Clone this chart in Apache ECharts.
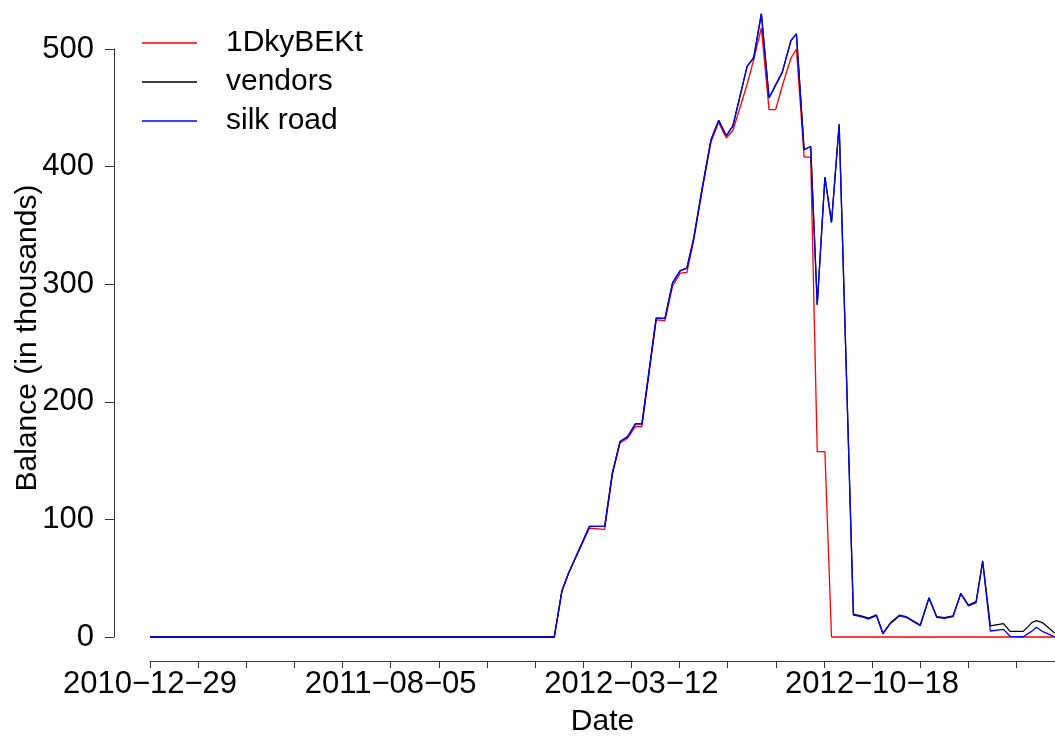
<!DOCTYPE html>
<html>
<head>
<meta charset="utf-8">
<script src="https://cdn.jsdelivr.net/npm/echarts@6/dist/echarts.min.js"></script>
<style>
  html, body { margin: 0; padding: 0; background: #fff; }
  #chart { width: 1055px; height: 736px; }
</style>
</head>
<body>
<div id="chart"></div>
<script>
// days since 2010-12-29 for every sample
const dayOffsets = [0, 369, 376, 382, 401, 415, 422, 429, 436, 443, 449, 462, 470, 477, 484, 490,
  496, 504, 512, 519, 526, 532, 545, 551, 558, 565, 571, 577, 585, 590, 597, 603, 609, 616, 622,
  629, 642, 649, 656, 663, 669, 676, 684, 690, 703, 711, 718, 725, 733, 740, 747, 754, 760, 767,
  779, 785, 797, 805, 809, 815, 826]

// balances in thousands
const dkyValues = [0, 0, 39.4, 54.2, 92.5, 91.6, 138, 165, 169, 179, 179, 269.7, 269, 298.5, 309.4,
  310, 336, 380, 421, 437.6, 424.3, 430.7, 470, 490.9, 517.9, 448.4, 448.4, 468.3, 492.3, 500,
  408.1, 408.1, 157.6, 157.6, 0, 0, 0, 0, 0, 0, 0, 0, 0, 0, 0, 0, 0, 0, 0, 0, 0, 0, 0, 0, 0, 0, 0,
  0, 0, 0, 0]

const vendorValues = [0, 0, 39.4, 54.2, 94, 94, 139.3, 166.2, 170.4, 181.2, 181.2, 271.1, 271,
  301.4, 311.6, 313.6, 337.8, 381.7, 422.8, 439.3, 426.2, 434.7, 485.2, 492.8, 530, 458.3, 469.3,
  480.1, 507.1, 512.8, 414.3, 417.1, 282.5, 391, 352.5, 436, 19.5, 18, 16, 18.8, 3.2, 12.3, 18.5,
  17.4, 10.2, 33.5, 17.4, 16.5, 18, 37.2, 27.2, 30, 64.7, 9.4, 11.4, 4.8, 4.8, 12.2, 14, 12, 3.1]

const silkRoadValues = [0, 0, 39.4, 54.2, 94, 94, 139.3, 166.2, 170.4, 181.2, 181.2, 271.1, 271,
  301.4, 311.6, 313.6, 337.8, 381.7, 422.8, 439.3, 426.2, 434.7, 485.2, 492.3, 530, 458.3, 469.3,
  480.1, 507.1, 512.8, 414.3, 417.1, 282.5, 391, 352.5, 436, 18.7, 17.3, 15.3, 18.1, 2.6, 11.7,
  17.9, 16.8, 9.6, 32.9, 16.8, 15.9, 17.3, 36.6, 26.4, 29.2, 64, 5.1, 6.5, 0.6, 0.2, 5, 8.3, 4.5, 0]

const dateLabels = ['2010\u221212\u221229', '2011\u221208\u221205', '2012\u221203\u221212', '2012\u221210\u221218']
const yTicks = [0, 100, 200, 300, 400, 500]

const labelStep = 659 / 3
const tickStep = labelStep / 5
const tickValues = []
for (let k = 0; k <= 18; k++) tickValues.push(k * tickStep)
const labelValues = dateLabels.map((_, i) => i * labelStep)

const font = 'Liberation Sans, Arial, Helvetica, sans-serif'

function pairs(values) {
  return dayOffsets.map((d, i) => [d, values[i]])
}

const chart = echarts.init(document.getElementById('chart'))

chart.setOption({
  animation: false,
  textStyle: { fontFamily: font },
  grid: { left: 150, right: 0, top: 49, bottom: 99, containLabel: false, outerBoundsMode: 'none' },
  legend: {
    orient: 'vertical',
    left: 142,
    top: 27,
    padding: 0,
    icon: 'rect',
    itemWidth: 55,
    itemHeight: 1.4,
    itemGap: 7,
    textStyle: { fontSize: 30, color: '#000', lineHeight: 30, padding: [2, 0, 0, 24], fontFamily: font },
    data: ['1DkyBEKt', 'vendors', 'silk road']
  },
  xAxis: {
    type: 'value',
    min: 0,
    max: 826,
    offset: 24,
    name: 'Date',
    nameLocation: 'middle',
    nameGap: 46,
    nameMoveOverlap: false,
    nameTextStyle: { fontSize: 30, color: '#000', fontFamily: font },
    axisLine: { show: true, onZero: false, lineStyle: { color: '#333', width: 1 } },
    axisTick: { show: true, length: 7, customValues: tickValues, lineStyle: { color: '#333' } },
    axisLabel: {
      customValues: labelValues,
      fontSize: 31,
      color: '#000',
      margin: 8,
      formatter: v => dateLabels[Math.round(v / labelStep)] || ''
    },
    splitLine: { show: false }
  },
  yAxis: {
    type: 'value',
    min: 0,
    max: 500,
    interval: 100,
    offset: 36,
    name: 'Balance (in thousands)',
    nameLocation: 'middle',
    nameGap: 71,
    nameMoveOverlap: false,
    nameTextStyle: { fontSize: 30, color: '#000', fontFamily: font, padding: [0, 0, 0, 10] },
    axisLine: { show: true, onZero: false, lineStyle: { color: '#333', width: 1 } },
    axisTick: { show: true, length: 9, customValues: yTicks, lineStyle: { color: '#333' } },
    axisLabel: { fontSize: 31, color: '#000', margin: 20, customValues: yTicks },
    splitLine: { show: false }
  },
  series: [
    {
      name: '1DkyBEKt', type: 'line', symbol: 'none', clip: false,
      color: '#ff0000', lineStyle: { color: '#ff0000', width: 1.3 },
      data: pairs(dkyValues)
    },
    {
      name: 'vendors', type: 'line', symbol: 'none', clip: false,
      color: '#000000', lineStyle: { color: '#000000', width: 1.3 },
      data: pairs(vendorValues)
    },
    {
      name: 'silk road', type: 'line', symbol: 'none', clip: false,
      color: '#0000ff', lineStyle: { color: '#0000ff', width: 1.3 },
      data: pairs(silkRoadValues)
    }
  ]
})
</script>
</body>
</html>
